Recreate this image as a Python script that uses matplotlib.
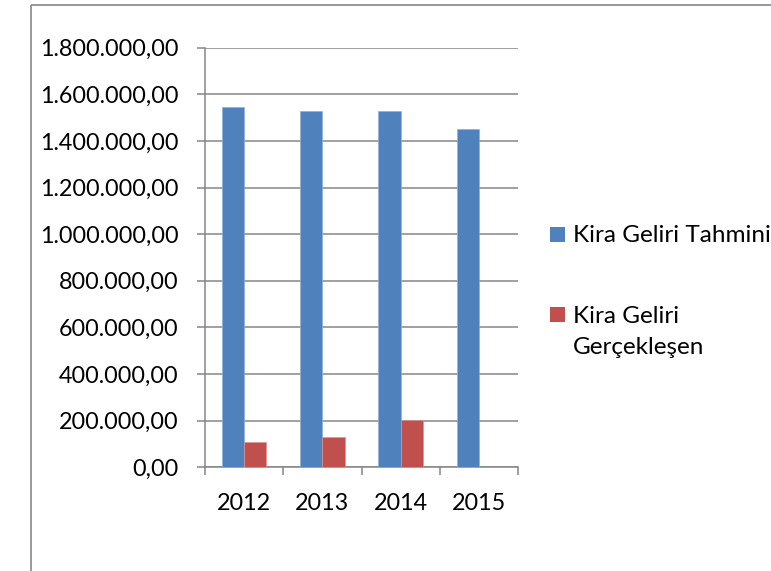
import numpy as np
import matplotlib.pyplot as plt
from matplotlib.patches import Rectangle
from matplotlib.ticker import FuncFormatter, MultipleLocator

# veri (grafikten okunan yaklaşık değerler)
years = ['2012', '2013', '2014', '2015']
tahmin = [1547000, 1527000, 1528000, 1450000]
gerceklesen = [107000, 129000, 203000, 0]
series_names = ['Kira Geliri Tahmini', 'Kira Geliri\nGerçekleşen']

blue = '#4F81BD'
red = '#C0504D'
grid_c = '#868686'

plt.rcParams['font.family'] = ['Lato', 'DejaVu Sans']
fs = 17.5
fs_tick = 16.8

fig = plt.figure(figsize=(7.71, 5.71), dpi=100)
W, H = 771, 571

# dış çerçeve
fig.patches.append(Rectangle((31 / W, 1 - 5 / H), 2, -2, transform=fig.transFigure,
                             fill=False, edgecolor=grid_c, linewidth=1.2))

ax = fig.add_axes([205 / W, 1 - 467.3 / H, (518 - 205) / W, (467.3 - 47.7) / H])

x = np.arange(len(years))
bw = 0.285
ax.bar(x - bw / 2, tahmin, bw, color=blue, edgecolor='#8fb0d8', linewidth=0.5, zorder=3)
ax.bar(x + bw / 2, gerceklesen, bw, color=red, edgecolor='#d99593', linewidth=0.5, zorder=3)

ax.set_xlim(-0.5, len(years) - 0.5)
ax.set_ylim(0, 1800000)
ax.yaxis.set_major_locator(MultipleLocator(200000))


def tr_fmt(v, pos):
    s = f'{v:,.2f}'
    return s.replace(',', 'X').replace('.', ',').replace('X', '.')


ax.yaxis.set_major_formatter(FuncFormatter(tr_fmt))
ax.yaxis.grid(True, color=grid_c, linewidth=1.1, zorder=0)
ax.set_axisbelow(True)

ax.set_xticks(x)
ax.set_xticklabels(years)
ax.set_xticks(np.arange(len(years) + 1) - 0.5, minor=True)
ax.tick_params(axis='x', which='major', length=0, pad=18.5, labelsize=fs_tick)
ax.tick_params(axis='x', which='minor', length=5.8, width=1.1, color=grid_c, direction='out')
ax.tick_params(axis='y', length=5.6, width=1.1, color=grid_c, pad=13.5, labelsize=fs_tick)

for s in ['top', 'right']:
    ax.spines[s].set_visible(False)
for s in ['left', 'bottom']:
    ax.spines[s].set_color(grid_c)
    ax.spines[s].set_linewidth(1.1)

# lejant (Excel tarzı, elle yerleştirilmiş)
leg_items = [(series_names[0], blue, 226.5, 241.7), (series_names[1], red, 306.5, 322.7)]
for name, col, ytop, base in leg_items:
    fig.patches.append(Rectangle((550 / W, 1 - (ytop + 15) / H), 15 / W, 15 / H,
                                 transform=fig.transFigure, facecolor=col, edgecolor='none'))
    for i, line in enumerate(name.split('\n')):
        fig.text(573 / W, 1 - (base + i * 30.8) / H, line, fontsize=fs, va='baseline',
                 ha='left', transform=fig.transFigure)

fig.savefig('out.png', dpi=100)
